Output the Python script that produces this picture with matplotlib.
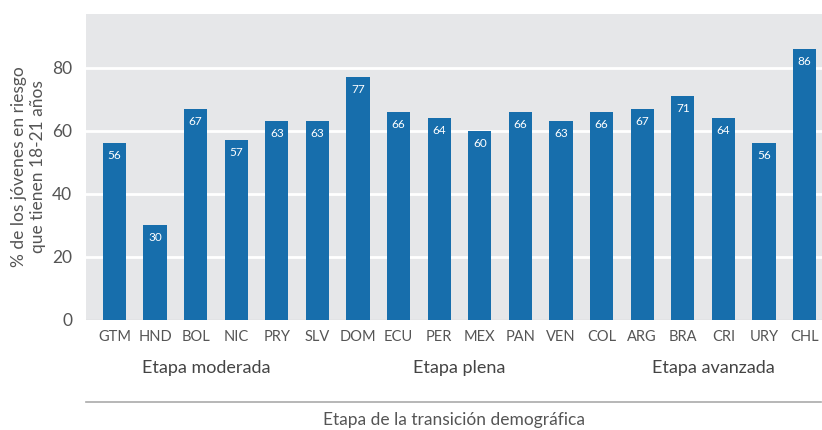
import matplotlib.pyplot as plt
import matplotlib as mpl

plt.rcParams['font.family'] = ['Lato', 'DejaVu Sans']

countries = ["GTM", "HND", "BOL", "NIC", "PRY", "SLV", "DOM", "ECU", "PER",
             "MEX", "PAN", "VEN", "COL", "ARG", "BRA", "CRI", "URY", "CHL"]
values = [56, 30, 67, 57, 63, 63, 77, 66, 64, 60, 66, 63, 66, 67, 71, 64, 56, 86]
groups = ["Etapa moderada", "Etapa plena", "Etapa avanzada"]
group_pos = [2.25, 8.5, 14.75]
yticks = [0, 20, 40, 60, 80]

W, H = 822, 430
fig = plt.figure(figsize=(W / 100, H / 100), dpi=100)
ax = fig.add_axes([86 / W, 1 - 320 / H, (822 - 86) / W, (320 - 14) / H])
ax.set_facecolor('#e6e7e9')
bar_color = '#176eac'
x = list(range(len(countries)))
bars = ax.bar(x, values, width=0.57, color=bar_color, zorder=3)
for xi, v in zip(x, values):
    ax.text(xi, v - 2.2, str(v), ha='center', va='top', color='white', fontsize=8.5, zorder=4)

ax.set_xlim(-0.7, 17.43)
ax.set_ylim(0, 97)
ax.set_yticks(yticks)
ax.set_yticklabels([str(t) for t in yticks], fontsize=12.5, color='#555555')
ax.set_xticks(x)
ax.set_xticklabels(countries, fontsize=10.5, color='#555555')
ax.tick_params(axis='both', length=0)
ax.tick_params(axis='y', pad=10)
ax.tick_params(axis='x', pad=7)
for t in yticks[1:]:
    ax.axhline(t, color='white', lw=2, zorder=1)
for s in ax.spines.values():
    s.set_visible(False)
ax.axhline(0, color='#d5d6d8', lw=1, zorder=2)

ax.set_ylabel('% de los jóvenes en riesgo\nque tienen 18-21 años', fontsize=12.5,
              color='#555555', labelpad=4, linespacing=1.25)

trans = mpl.transforms.blended_transform_factory(ax.transData, fig.transFigure)
for g, p in zip(groups, group_pos):
    ax.text(p, 1 - 368 / H, g, transform=trans, ha='center', va='center',
            fontsize=13, color='#444444')

fig.add_artist(mpl.lines.Line2D([86 / W, 821 / W], [1 - 402 / H, 1 - 402 / H],
                                color='#aaaaaa', lw=1.2))
fig.text((86 + 822) / 2 / W, 1 - 420 / H, 'Etapa de la transición demográfica',
         ha='center', va='center', fontsize=12.5, color='#555555')

fig.savefig('out.png', dpi=100)
